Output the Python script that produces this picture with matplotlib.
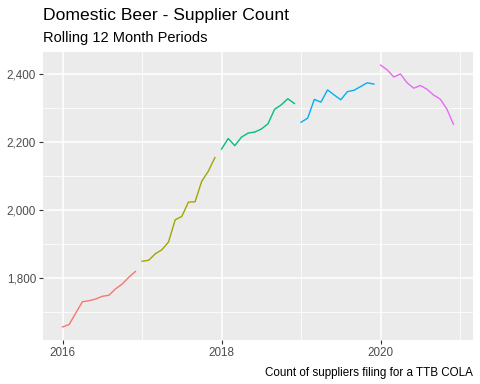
import numpy as np
import matplotlib.pyplot as plt

# Rolling 12 month supplier counts, one series per year (Jan..Dec)
years = [2016, 2017, 2018, 2019, 2020]
counts_2016 = [1656, 1663, 1697, 1730, 1733, 1738, 1746, 1749, 1768, 1782, 1802, 1819]
counts_2017 = [1849, 1852, 1871, 1883, 1906, 1971, 1981, 2023, 2024, 2084, 2114, 2154]
counts_2018 = [2179, 2210, 2189, 2214, 2226, 2229, 2238, 2253, 2296, 2309, 2327, 2313]
counts_2019 = [2258, 2270, 2325, 2317, 2353, 2338, 2324, 2348, 2352, 2363, 2374, 2370]
counts_2020 = [2426, 2412, 2391, 2400, 2374, 2358, 2366, 2355, 2338, 2326, 2297, 2252]
series = [counts_2016, counts_2017, counts_2018, counts_2019, counts_2020]
colors = ['#F8766D', '#A3A500', '#00BF7D', '#00B0F6', '#E76BF3']

plt.rcParams['font.family'] = ['Liberation Sans', 'DejaVu Sans']

fig = plt.figure(figsize=(4.8, 3.84), dpi=100)
ax = fig.add_axes([43/480, 1 - 340/384, 430/480, 288/384])
ax.set_facecolor('#EBEBEB')

# Plot each year as its own line
for yr, vals, col in zip(years, series, colors):
    x = yr + np.arange(12) / 12.0
    ax.plot(x, vals, color=col, lw=1.0)

ax.margins(x=0.05, y=0.05)

ax.set_xticks([2016, 2018, 2020])
ax.set_xticks([2017, 2019, 2021], minor=True)
ax.set_yticks([1800, 2000, 2200, 2400])
ax.set_yticks([1700, 1900, 2100, 2300], minor=True)
ax.set_yticklabels(['1,800', '2,000', '2,200', '2,400'])
ax.grid(which='major', color='white', lw=1.1)
ax.grid(which='minor', color='white', lw=0.55)
ax.set_axisbelow(True)
ax.tick_params(which='major', length=3, color='#333333', labelcolor='#4D4D4D',
               labelsize=8.4, width=0.8, pad=2)
ax.tick_params(which='minor', length=0)
for s in ax.spines.values():
    s.set_visible(False)

fig.text(43/480, 1 - 20/384, 'Domestic Beer - Supplier Count', fontsize=12.6,
         ha='left', va='baseline')
fig.text(43/480, 1 - 42/384, 'Rolling 12 Month Periods', fontsize=10.5,
         ha='left', va='baseline')
fig.text(473/480, 1 - 376/384, 'Count of suppliers filing for a TTB COLA',
         fontsize=8.4, ha='right', va='baseline')

plt.savefig('out.png', dpi=100)
